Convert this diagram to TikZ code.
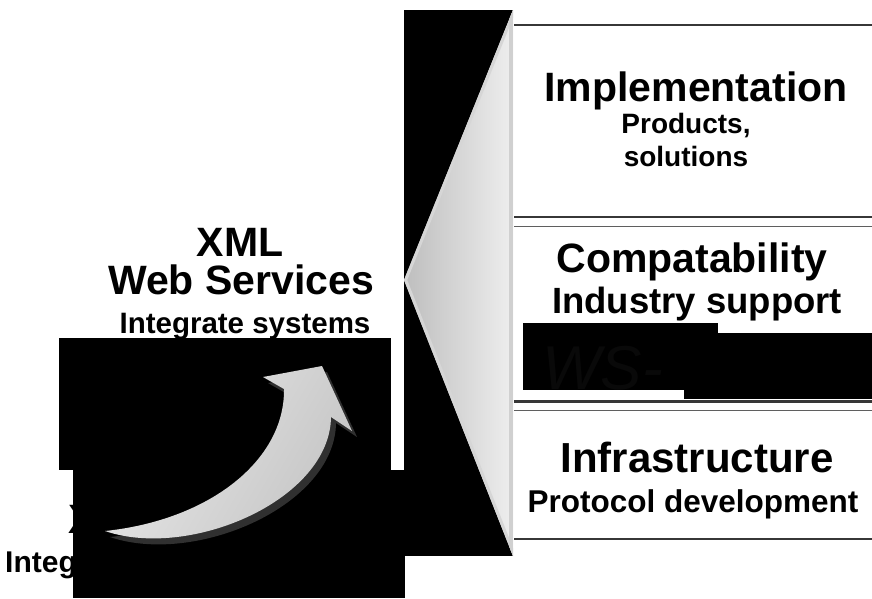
\documentclass[tikz,border=0pt]{standalone}
\usepackage{fontspec}
\setmainfont{Liberation Sans}
\definecolor{sepc}{RGB}{55,55,55}
\definecolor{sepl}{RGB}{95,95,95}
\definecolor{fl}{RGB}{190,190,190}
\definecolor{fr}{RGB}{238,238,238}
\definecolor{fedge}{RGB}{214,214,214}
\definecolor{fstrip}{RGB}{208,208,208}
\definecolor{arl}{RGB}{232,232,232}
\definecolor{arr}{RGB}{196,196,196}
\definecolor{arsh}{RGB}{48,48,48}
\definecolor{wsc}{RGB}{9,9,9}
\tikzset{
  blk/.style={fill=black, draw=none},
  seph/.style={draw=sepc, line width=2.2pt},
  septhin/.style={draw=sepl, line width=1.5pt},
  headtxt/.style={font=\bfseries\fontsize{41}{41}\selectfont, anchor=base, inner sep=0pt},
  subtxt/.style={font=\bfseries\fontsize{#1}{#1}\selectfont, anchor=base, inner sep=0pt},
}
\newcommand\arrowshape{(105,531) .. controls (190,560) and (330,500) .. (331,417) -- (352,431) -- (322,366) -- (263,377) -- (284,389) .. controls (285,460) and (210,520) .. (105,531) -- cycle}
\begin{document}
\begin{tikzpicture}[x=1pt,y=-1pt]
\useasboundingbox (0,0) rectangle (872,598);
\fill[white] (0,0) rectangle (872,598);

% left texts
\node[headtxt] (xml) at (240,256) {XML};
\node[headtxt] (ws) at (241,294) {Web Services};
\node[subtxt=29.5] (intsys) at (245,333) {Integrate systems};
\node[headtxt, anchor=base west] (xlow) at (68,533) {X};
\node[subtxt=30, anchor=base west] (integ) at (5,572) {Integ};

% right texts
\node[headtxt] (impl) at (696,101) {Implementation};
\node[subtxt=28] (prod) at (686,133) {Products,};
\node[subtxt=28] (sol) at (686,166) {solutions};
\node[headtxt] (compat) at (692,272) {Compatability};
\node[subtxt=36.5] (indsup) at (697,313) {Industry support};
\node[subtxt=42] (infra) at (697,472) {Infrastructure};
\node[subtxt=31.5] (proto) at (693,512) {Protocol development};

% separators
\draw[seph] (514,25) -- (872,25);
\draw[seph] (514,217) -- (872,217);
\draw[septhin] (514,226.5) -- (872,226.5);
\draw[seph] (514,401.5) -- (872,401.5);
\draw[septhin] (514,410.5) -- (872,410.5);
\draw[seph] (514,539) -- (872,539);

% black blocks
\fill[blk] (59,338) rectangle (391,470);
\fill[blk] (73,470) rectangle (405,598);
\fill[blk] (404,10) rectangle (513,556);
\fill[blk] (523,323) rectangle (718,390);
\fill[blk] (684,333) rectangle (872,399);
\node[font=\itshape\fontsize{62}{62}\selectfont, text=wsc, anchor=base west, inner sep=0pt] (wstxt) at (542,389) {WS-};

% funnel
\coordinate (ftop) at (513,10);
\coordinate (fapex) at (404,280);
\coordinate (fbot) at (513,556);
\shade[left color=fl, right color=fr] (ftop) -- (fapex) -- (fbot) -- cycle;
\begin{scope}
  \clip (ftop) -- (fapex) -- (fbot) -- cycle;
  \draw[fedge, line width=6pt, line join=round] (ftop) -- (fapex) -- (fbot);
  \fill[fstrip] (508.5,10) rectangle (513,556);
\end{scope}

% curved arrow
\fill[arsh, shift={(5,6)}] \arrowshape;
\shade[left color=arl, right color=arr, shading angle=60] \arrowshape;
\end{tikzpicture}
\end{document}
